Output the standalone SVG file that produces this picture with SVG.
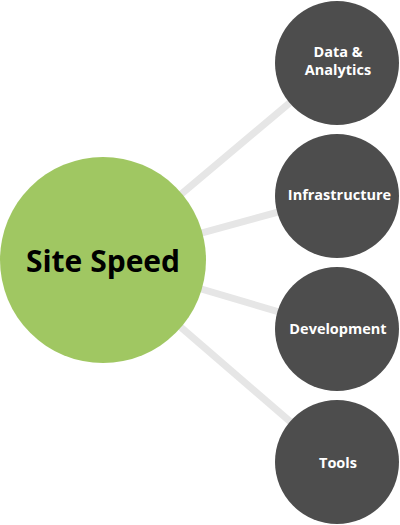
<svg xmlns="http://www.w3.org/2000/svg" width="400" height="525" viewBox="0 0 400 525">
<style>
.conn{stroke:#e6e6e6;stroke-width:7;fill:none}
.hub{fill:#a0c762}
.leaf{fill:#4d4d4d}
.t{font-family:"Open Sans","Liberation Sans",sans-serif;font-weight:bold;text-anchor:middle}
.lt{fill:#ffffff;font-size:14.5px}
.ht{fill:#000000;font-size:30px}
</style>
<rect width="400" height="525" fill="#ffffff"/>
<g id="connectors">
<line class="conn" x1="103" y1="260" x2="337" y2="63"/>
<line class="conn" x1="103" y1="260" x2="337" y2="196"/>
<line class="conn" x1="103" y1="260" x2="337" y2="329"/>
<line class="conn" x1="103" y1="260" x2="337" y2="462"/>
</g>
<g id="site-speed">
<circle class="hub" cx="103" cy="260" r="103"/>
<text class="t ht" x="103" y="272">Site Speed</text>
</g>
<g id="data-analytics">
<circle class="leaf" cx="337" cy="63" r="62"/>
<text class="t lt" x="338" y="57">Data &amp;</text>
<text class="t lt" x="338" y="75">Analytics</text>
</g>
<g id="infrastructure">
<circle class="leaf" cx="337" cy="196" r="62"/>
<text class="t lt" x="339.5" y="200">Infrastructure</text>
</g>
<g id="development">
<circle class="leaf" cx="337" cy="329" r="62"/>
<text class="t lt" x="338" y="334">Development</text>
</g>
<g id="tools">
<circle class="leaf" cx="337" cy="462" r="62"/>
<text class="t lt" x="338" y="468">Tools</text>
</g>
</svg>
